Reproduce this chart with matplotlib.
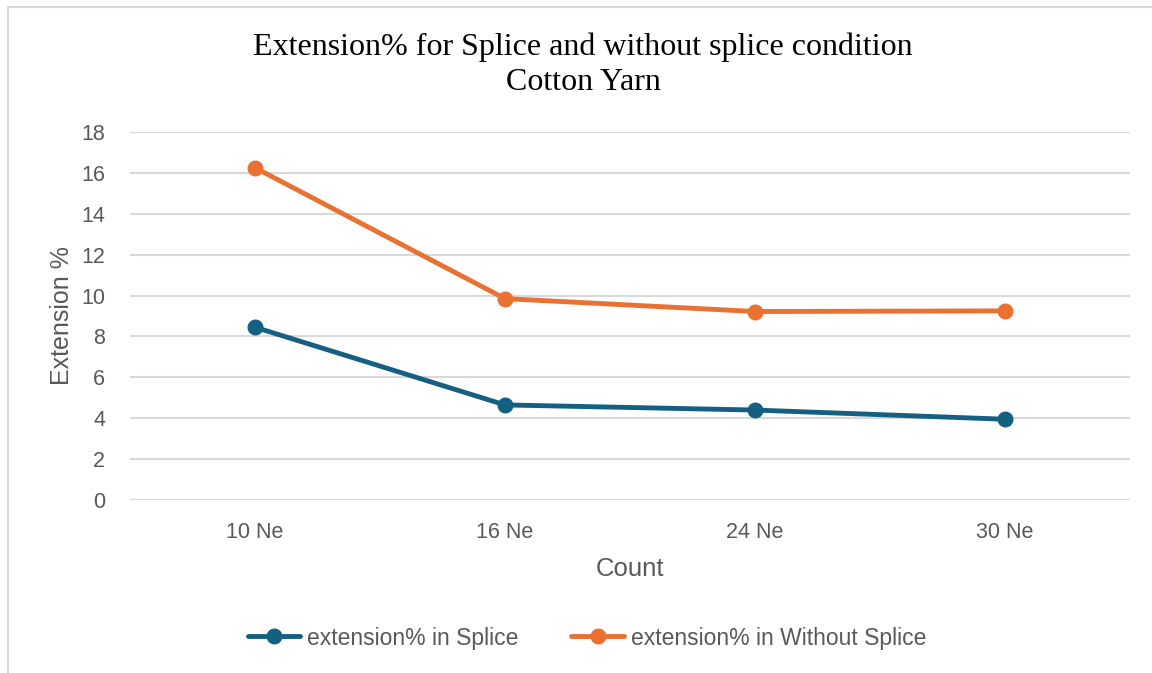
import matplotlib.pyplot as plt
from matplotlib.patches import Rectangle

# Yarn counts and extension values
counts = ['10 Ne', '16 Ne', '24 Ne', '30 Ne']
ext_splice = [8.45, 4.65, 4.4, 3.95]
ext_without_splice = [16.25, 9.85, 9.22, 9.25]

blue = '#156082'
orange = '#E97132'
grey_text = '#595959'

fig = plt.figure(figsize=(11.52, 6.73), dpi=100)
ax = fig.add_axes([130 / 1152, 1 - 500 / 673, 1000 / 1152, 368 / 673])

x = range(len(counts))
ax.plot(x, ext_splice, color=blue, linewidth=3.5, marker='o', markersize=10.5,
        label='extension% in Splice', solid_capstyle='round')
ax.plot(x, ext_without_splice, color=orange, linewidth=3.5, marker='o', markersize=10.5,
        label='extension% in Without Splice', solid_capstyle='round')

ax.set_xlim(-0.5, 3.5)
ax.set_ylim(0, 18)
ax.set_yticks(range(0, 19, 2))
ax.set_xticks(list(x))
ax.set_xticklabels(counts)
ax.grid(axis='y', color='#d9d9d9', linewidth=1.5)
ax.set_axisbelow(True)
for s in ax.spines.values():
    s.set_visible(False)
ax.tick_params(length=0, labelsize=15.5, labelcolor=grey_text, pad=16)
ax.tick_params(axis='y', pad=18)
for lbl in ax.get_xticklabels() + ax.get_yticklabels():
    lbl.set_family('Liberation Sans')

ax.set_xlabel('Count', fontsize=18.5, color=grey_text, family='Liberation Sans', labelpad=10)
ax.set_ylabel('Extension %', fontsize=18, color=grey_text, family='Liberation Sans', labelpad=5)

fig.text(583 / 1152, 1 - 47 / 673, 'Extension% for Splice and without splice condition',
         ha='center', va='center', fontsize=23, family='Liberation Serif')
fig.text(583 / 1152, 1 - 83 / 673, 'Cotton Yarn',
         ha='center', va='center', fontsize=23, family='Liberation Serif')

leg = fig.legend(loc='center', bbox_to_anchor=(587 / 1152, 1 - 638 / 673), ncol=2, frameon=False,
                 handlelength=2.3, columnspacing=2.3, handletextpad=0.3,
                 prop={'family': 'Liberation Sans', 'size': 16.5})
for t in leg.get_texts():
    t.set_color(grey_text)

# chart area border
fig.patches.append(Rectangle((8 / 1152, -0.1), 1.2, 1 - 7 / 673 + 0.1, transform=fig.transFigure,
                             fill=False, edgecolor='#d9d9d9', linewidth=1.5))

fig.savefig('out.png', dpi=100)
